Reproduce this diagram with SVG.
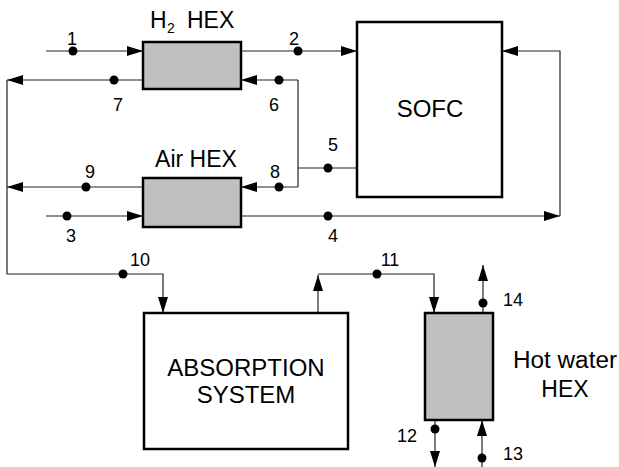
<svg xmlns="http://www.w3.org/2000/svg" width="619" height="467" viewBox="0 0 619 467">
<style>
  .box { stroke: #000; stroke-width: 2.5; }
  .hex { fill: #c0c0c0; }
  .blk { fill: #fff; }
  .ln { fill: none; stroke: #222; stroke-width: 1.2; }
  .arr { fill: none; stroke: #222; stroke-width: 1.2; marker-end: url(#ah); }
  .dot { fill: #000; }
  .big { font-family: "Liberation Sans", Arial, sans-serif; font-size: 23px; fill: #000; }
  .num { font-family: "Liberation Sans", Arial, sans-serif; font-size: 18px; fill: #000; text-anchor: middle; }
</style>
<defs>
  <marker id="ah" markerUnits="userSpaceOnUse" markerWidth="17" markerHeight="11" refX="16" refY="5" orient="auto" overflow="visible">
    <path d="M0,0 L16,5 L0,10 Z" fill="#000"/>
  </marker>
</defs>
<rect width="619" height="467" fill="#fff"/>

<g id="connectors">
  <!-- 1 -->
  <line class="arr" x1="46" y1="51" x2="143" y2="51"/>
  <!-- 2 -->
  <line class="arr" x1="241" y1="51" x2="357" y2="51"/>
  <!-- 7 -->
  <line class="arr" x1="143" y1="80" x2="7" y2="80"/>
  <!-- 6 -->
  <line class="arr" x1="298" y1="80" x2="241" y2="80"/>
  <line class="ln" x1="298" y1="80" x2="298" y2="187"/>
  <!-- 5 -->
  <line class="ln" x1="298" y1="168" x2="357" y2="168"/>
  <!-- 8 -->
  <line class="arr" x1="298" y1="187" x2="241" y2="187"/>
  <!-- 9 -->
  <line class="arr" x1="143" y1="187" x2="7" y2="187"/>
  <!-- 3 -->
  <line class="arr" x1="46" y1="216" x2="143" y2="216"/>
  <!-- 4 -->
  <line class="arr" x1="241" y1="216" x2="560" y2="216"/>
  <polyline class="arr" points="560,216 560,51 502,51"/>
  <!-- 10 -->
  <polyline class="arr" points="7,80 7,274 163,274 163,313"/>
  <!-- 11 -->
  <line class="arr" x1="318" y1="313" x2="318" y2="275"/>
  <polyline class="arr" points="318,274 434,274 434,313"/>
  <!-- 14 -->
  <line class="arr" x1="483" y1="313" x2="483" y2="265"/>
  <!-- 12 -->
  <line class="arr" x1="435" y1="420" x2="435" y2="467"/>
  <!-- 13 -->
  <line class="arr" x1="482" y1="467" x2="482" y2="420"/>

  <g id="state-points">
    <circle class="dot" cx="73" cy="51" r="4.5"/>
    <circle class="dot" cx="298" cy="51" r="4.5"/>
    <circle class="dot" cx="114" cy="80" r="4.5"/>
    <circle class="dot" cx="279" cy="80" r="4.5"/>
    <circle class="dot" cx="328" cy="168" r="4.5"/>
    <circle class="dot" cx="279" cy="187" r="4.5"/>
    <circle class="dot" cx="86" cy="187" r="4.5"/>
    <circle class="dot" cx="67" cy="216" r="4.5"/>
    <circle class="dot" cx="328" cy="216" r="4.5"/>
    <circle class="dot" cx="123" cy="274" r="4.5"/>
    <circle class="dot" cx="377" cy="274" r="4.5"/>
    <circle class="dot" cx="483" cy="303" r="4.5"/>
    <circle class="dot" cx="435" cy="429" r="4.5"/>
    <circle class="dot" cx="482" cy="458" r="4.5"/>
  </g>
  <g id="state-labels">
    <text class="num" x="72" y="45">1</text>
    <text class="num" x="294" y="45">2</text>
    <text class="num" x="71" y="242">3</text>
    <text class="num" x="333" y="242">4</text>
    <text class="num" x="333" y="151">5</text>
    <text class="num" x="274" y="111">6</text>
    <text class="num" x="118" y="111">7</text>
    <text class="num" x="275" y="178">8</text>
    <text class="num" x="90" y="178">9</text>
    <text class="num" x="140" y="266">10</text>
    <text class="num" x="390" y="266">11</text>
    <text class="num" x="407" y="442">12</text>
    <text class="num" x="513" y="460">13</text>
    <text class="num" x="513" y="306">14</text>
  </g>
</g>

<g id="h2-hex">
  <rect class="box hex" x="143" y="42" width="98" height="47"/>
  <text class="big" y="28"><tspan x="150">H</tspan><tspan x="167" dy="5" font-size="14">2</tspan><tspan x="187" dy="-5">HEX</tspan></text>
</g>

<g id="air-hex">
  <rect class="box hex" x="143" y="178" width="98" height="49"/>
  <text class="big" x="196" y="167" text-anchor="middle">Air HEX</text>
</g>

<g id="sofc">
  <rect class="box blk" x="357" y="22" width="145" height="175"/>
  <text class="big" x="430" y="117" text-anchor="middle" style="font-size:24px">SOFC</text>
</g>

<g id="absorption-system">
  <rect class="box blk" x="144" y="313" width="204" height="136"/>
  <text class="big" x="246" y="376" text-anchor="middle" style="font-size:24px">ABSORPTION</text>
  <text class="big" x="246" y="403" text-anchor="middle" style="font-size:24px">SYSTEM</text>
</g>

<g id="hot-water-hex">
  <rect class="box hex" x="425" y="313" width="68" height="107"/>
  <text class="big" x="513" y="368" textLength="104" lengthAdjust="spacingAndGlyphs">Hot water</text>
  <text class="big" x="565" y="397" text-anchor="middle">HEX</text>
</g>
</svg>
